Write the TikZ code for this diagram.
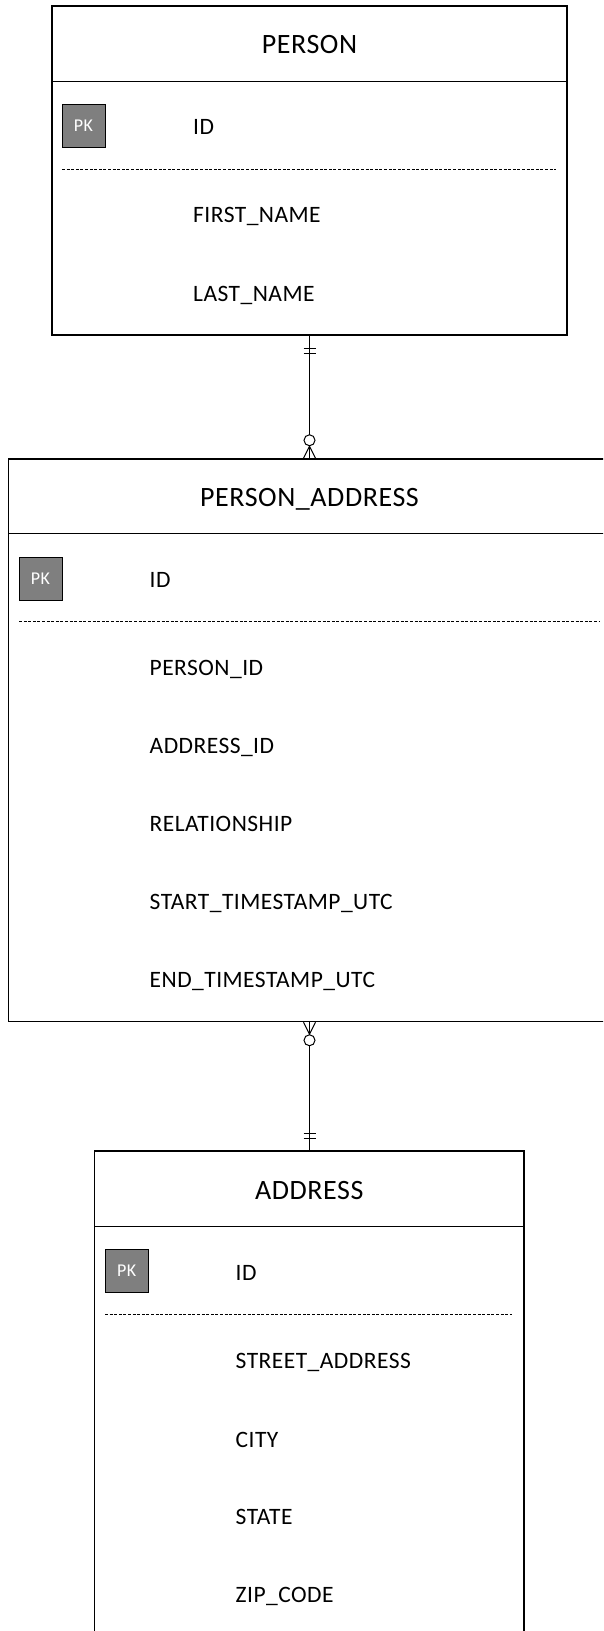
\documentclass[tikz,border=0pt]{standalone}
\usepackage{fontspec}
\setmainfont{Carlito}[LetterSpace=2]
\usetikzlibrary{calc}
\definecolor{pkgray}{RGB}{127,127,127}
\tikzset{
  entity/.style={draw=black, line width=1.5pt, fill=white, inner sep=0pt, rectangle},
  divider/.style={line width=1pt},
  keybox/.style={draw=black, line width=1pt, fill=pkgray, minimum size=43pt, inner sep=0pt, text=white,
    font=\fontsize{18}{20}\selectfont, text height=12pt, text depth=0pt},
  title/.style={font=\fontsize{28}{30}\selectfont, inner sep=0pt, text height=20pt, text depth=0pt},
  field/.style={font=\fontsize{23.5}{25}\selectfont, anchor=west, inner sep=0pt, text height=17.5pt, text depth=0pt},
  sep/.style={line width=0.9pt, dash pattern=on 3pt off 1.6pt},
  conn/.style={line width=1pt},
  nullcirc/.style={draw=black, line width=1pt, fill=white, circle, inner sep=0pt, minimum size=11pt},
}
\begin{document}
\begin{tikzpicture}[x=1pt,y=-1pt]
\useasboundingbox (0,0) rectangle (603,1631);
\fill[white] (0,0) rectangle (603,1631);
\clip (0,0) rectangle (603,1631);

% ---------------- PERSON
\node[entity, minimum width=515pt, minimum height=329pt] (person) at (309.5,170.5) {};
\draw[divider] (52,81) -- (567,81);
\node[title] (ptitle) at (309.5,43.5) {PERSON};
\node[keybox] (ppk) at (83.5,125.5) {PK};
\node[field] (pid) at (193,126) {ID};
\draw[sep] (62,169) -- (556,169);
\node[field] (pfirst) at (193,214) {FIRST\_NAME};
\node[field] (plast) at (193,292.5) {LAST\_NAME};

% ---------------- PERSON_ADDRESS
\node[entity, minimum width=602pt, minimum height=562.5pt] (pa) at (309.5,740.25) {};
\draw[divider] (8.5,533.5) -- (610.5,533.5);
\node[title] (patitle) at (309.5,496) {PERSON\_ADDRESS};
\node[keybox] (papk) at (40.5,578.5) {PK};
\node[field] (paid) at (149.5,579) {ID};
\draw[sep] (19,621.5) -- (600,621.5);
\node[field] (papid) at (149.5,667) {PERSON\_ID};
\node[field] (paaid) at (149.5,745) {ADDRESS\_ID};
\node[field] (parel) at (149.5,823) {RELATIONSHIP};
\node[field] (pastart) at (149.5,901) {START\_TIMESTAMP\_UTC};
\node[field] (paend) at (149.5,979) {END\_TIMESTAMP\_UTC};

% ---------------- ADDRESS
\node[entity, minimum width=429.5pt, minimum height=486pt] (addr) at (309.25,1394) {};
\draw[divider] (94.5,1226.5) -- (524,1226.5);
\node[title] (atitle) at (309.25,1189) {ADDRESS};
\node[keybox] (apk) at (126.75,1270.5) {PK};
\node[field] (aid) at (235.5,1271.5) {ID};
\draw[sep] (105,1314.5) -- (512,1314.5);
\node[field] (astreet) at (235.5,1360) {STREET\_ADDRESS};
\node[field] (acity) at (235.5,1438.3) {CITY};
\node[field] (astate) at (235.5,1516) {STATE};
\node[field] (azip) at (235.5,1593.5) {ZIP\_CODE};

% ---------------- connector PERSON -> PERSON_ADDRESS
\coordinate (c1a) at (person.south);
\coordinate (c1b) at (person.south |- pa.north);
\draw[conn] (c1a) -- (c1b);
\draw[conn] ($(c1a)+(-6,12.5)$) -- ++(12,0);
\draw[conn] ($(c1a)+(-6,18)$) -- ++(12,0);
\draw[conn] ($(c1b)+(-6,0)$) -- ++(6,-12) -- ++(6,12);
\node[nullcirc] (c1o) at ($(c1b)+(0,-18)$) {};

% ---------------- connector PERSON_ADDRESS -> ADDRESS
\coordinate (c2a) at (pa.south);
\coordinate (c2b) at (pa.south |- addr.north);
\draw[conn] (c2a) -- (c2b);
\draw[conn] ($(c2a)+(-6,0)$) -- ++(6,12) -- ++(6,-12);
\node[nullcirc] (c2o) at ($(c2a)+(0,18)$) {};
\draw[conn] ($(c2b)+(-6,-12)$) -- ++(12,0);
\draw[conn] ($(c2b)+(-6,-16.5)$) -- ++(12,0);
\end{tikzpicture}
\end{document}
